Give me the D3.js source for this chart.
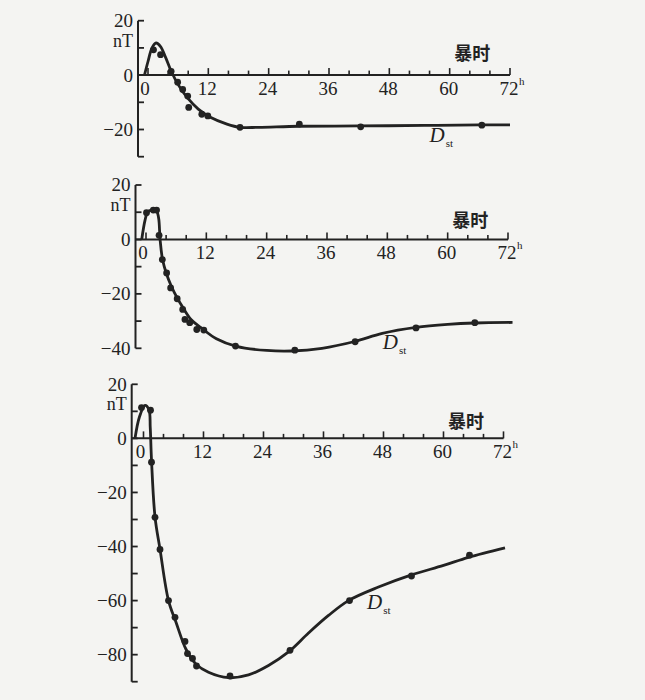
<!DOCTYPE html>
<html>
<head>
<meta charset="utf-8">
<script src="https://cdn.jsdelivr.net/npm/d3@7"></script>
<style>
  body { margin: 0; background: #f4f4f2; }
  svg { display: block; }
  .serif { font-family: "Liberation Serif", "Times New Roman", "DejaVu Serif", serif; }
</style>
</head>
<body>
<svg id="chart" width="645" height="700"></svg>
<script>
// storm-time hours shown on the x axis
const hourLabels = [0, 12, 24, 36, 48, 60, 72];

// y tick labels (nT) for each panel
const nTLabels1 = [20, 0, -20];
const nTLabels2 = [20, 0, -20, -40];
const nTLabels3 = [20, 0, -20, -40, -60, -80];

// panel 1 : weak storm, [hour, Dst nT]
const curve1 = [[-0.7,0],[0,5],[0.8,10],[1.6,11.8],[2.5,10.5],[3.5,6.5],[4.6,1.5],[6,-3.5],
  [7.9,-8.5],[10,-12.5],[12.4,-15.5],[15.7,-18],[18.3,-19.2],[22,-19.2],[30,-18.8],
  [42,-18.7],[55,-18.5],[66,-18.3],[72,-18.3]];
const dots1 = [[1.1,9.3],[2.5,7.5],[4.6,1.4],[5.9,-2.6],[6.9,-5.3],[7.9,-7.7],[8.1,-11.9],
  [10.7,-14.4],[11.9,-15],[18.3,-19.2],[30.1,-18],[42.3,-19],[66.4,-18.4]];

// panel 2 : moderate storm
const curve2 = [[-0.85,0],[-0.2,7],[0.3,10],[1,10.8],[2,10.8],[2.5,8],[2.8,0],[3.3,-7.5],
  [4.1,-12.8],[5,-17],[6.2,-21.5],[7.5,-25.5],[9,-29.5],[11,-32.5],[14,-36.5],[18,-39.3],
  [24,-40.8],[29,-41],[35,-40],[41.5,-37.5],[47,-34.5],[53.7,-32.3],[60,-31.2],[65.4,-30.7],[72.9,-30.5]];
const dots2 = [[0.1,9.8],[1.45,10.8],[2.1,10.8],[2.6,1.5],[3.25,-7.4],[4.1,-12.3],[4.9,-17.8],
  [6.2,-21.8],[7.3,-25.7],[7.75,-29.4],[8.7,-30.6],[10.1,-33.1],[11.5,-33.3],[17.8,-39.2],
  [29.6,-40.7],[41.6,-37.6],[53.7,-32.5],[65.4,-30.6]];

// panel 3 : strong storm
const curve3 = [[-1.7,0],[-0.8,8],[0.3,12.2],[1.1,10.5],[1.35,4],[1.6,-8],[2.3,-29],[3.3,-41],
  [5,-60],[6.5,-68],[8.5,-78],[10.5,-83.5],[13,-86.5],[17,-88.5],[21,-87.5],[25,-84],
  [29,-79],[33,-72],[37,-65.5],[41,-60],[47,-55],[53.6,-50.5],[60,-47],[65,-44],[72.3,-40.5]];
const dots3 = [[-0.4,11.4],[1.4,10.4],[1.6,-8.8],[2.3,-29.2],[3.3,-41.1],[5,-60],[6.3,-66.2],
  [8.3,-75.1],[8.8,-79.6],[9.8,-81.4],[10.6,-84.2],[17.3,-87.9],[29.3,-78.4],[41.2,-60],
  [53.6,-50.9],[65.2,-43.2]];

const ink = "#222";

const svg = d3.select("#chart");

const drawPanel = (p) => {
  const x = d3.scaleLinear().domain([0, 72]).range(p.xRange);
  const y = d3.scaleLinear().domain(p.yDomain).range(p.yRange);
  const g = svg.append("g");

  // y axis line
  g.append("line")
    .attr("x1", p.axisX).attr("x2", p.axisX)
    .attr("y1", y(p.yDomain[0])).attr("y2", y(p.yDomain[1]))
    .attr("stroke", ink).attr("stroke-width", 2);

  // y ticks every 10 nT, pointing right
  g.selectAll(".ytick")
    .data(d3.range(p.yDomain[1], p.yDomain[0] + 1, 10))
    .join("line")
      .attr("x1", p.axisX).attr("x2", p.axisX + 6)
      .attr("y1", d => y(d)).attr("y2", d => y(d))
      .attr("stroke", ink).attr("stroke-width", 1.8);

  g.selectAll(".ylab")
    .data(p.yLabels)
    .join("text")
      .attr("class", "serif")
      .attr("x", p.axisX - 5)
      .attr("y", d => y(d))
      .attr("dy", "0.34em")
      .attr("text-anchor", "end")
      .attr("font-size", 19)
      .attr("fill", ink)
      .text(d => d < 0 ? "\u2212" + Math.abs(d) : d);

  // unit under the top label
  g.append("text")
    .attr("class", "serif")
    .attr("x", p.axisX - 5)
    .attr("y", y(20) + 20)
    .attr("dy", "0.34em")
    .attr("text-anchor", "end")
    .attr("font-size", 18)
    .attr("fill", ink)
    .text("nT");

  // x axis
  const y0 = y(0);
  g.append("line")
    .attr("x1", p.axisX).attr("x2", x(72))
    .attr("y1", y0).attr("y2", y0)
    .attr("stroke", ink).attr("stroke-width", 2);

  g.selectAll(".xtick")
    .data(d3.range(0, 73, 4))
    .join("line")
      .attr("x1", d => x(d)).attr("x2", d => x(d))
      .attr("y1", y0).attr("y2", d => d % 12 === 0 ? y0 - 7 : y0 - 4.5)
      .attr("stroke", ink).attr("stroke-width", 1.6);

  g.selectAll(".xlab")
    .data(hourLabels)
    .join("text")
      .attr("class", "serif")
      .attr("x", d => x(d) - (d === 0 ? 3 : 1))
      .attr("y", y0 + 20)
      .attr("text-anchor", "middle")
      .attr("font-size", 19)
      .attr("fill", ink)
      .text(d => d);

  g.append("text")
    .attr("class", "serif")
    .attr("x", x(72) + 9)
    .attr("y", y0 + 10)
    .attr("font-size", 11)
    .attr("fill", ink)
    .text("h");

  // storm-time label
  g.append("text")
    .attr("x", x(64.5))
    .attr("y", y0 - p.stormGap)
    .attr("text-anchor", "middle")
    .attr("font-family", "'Noto Sans CJK SC', sans-serif")
    .attr("font-weight", "bold")
    .attr("font-size", 18)
    .attr("fill", ink)
    .text("暴时");

  // fitted curve
  const line = d3.line()
    .x(d => x(d[0]))
    .y(d => y(d[1]))
    .curve(d3.curveCatmullRom.alpha(0.5));

  g.append("path")
    .attr("d", line(p.curve))
    .attr("fill", "none")
    .attr("stroke", ink)
    .attr("stroke-width", 2.8)
    .attr("stroke-linejoin", "round");

  g.selectAll(".dot")
    .data(p.dots)
    .join("circle")
      .attr("cx", d => x(d[0]))
      .attr("cy", d => y(d[1]))
      .attr("r", 3.4)
      .attr("fill", ink);

  // D_st label
  const lab = g.append("text")
    .attr("class", "serif")
    .attr("x", x(p.dstAt[0]))
    .attr("y", y(p.dstAt[1]))
    .attr("fill", ink);
  lab.append("tspan").attr("font-size", 21).attr("font-style", "italic").text("D");
  lab.append("tspan").attr("font-size", 11).attr("dx", 1).attr("dy", 5).text("st");
};

drawPanel({
  xRange: [148, 510], yDomain: [20, -30], yRange: [20.7, 156.7], axisX: 138,
  yLabels: nTLabels1, curve: curve1, dots: dots1, stormGap: 15, dstAt: [56, -24.6]
});
drawPanel({
  xRange: [146, 508], yDomain: [20, -40], yRange: [185, 348.3], axisX: 135.5,
  yLabels: nTLabels2, curve: curve2, dots: dots2, stormGap: 12, dstAt: [47.1, -40.4]
});
drawPanel({
  xRange: [143.5, 503.5], yDomain: [20, -90], yRange: [384.3, 681.7], axisX: 131.7,
  yLabels: nTLabels3, curve: curve3, dots: dots3, stormGap: 10, dstAt: [44.7, -63.1]
});
</script>
</body>
</html>
